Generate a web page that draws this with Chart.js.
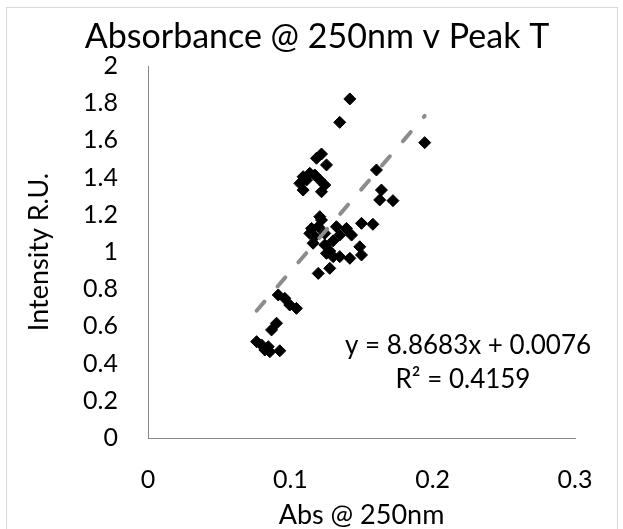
<!DOCTYPE html>
<html><head><meta charset="utf-8">
<script src="https://cdn.jsdelivr.net/npm/chart.js@4/dist/chart.umd.min.js"></script>
<style>html,body{margin:0;padding:0;background:#fff}#wrap{width:623px;height:529px;position:relative}</style>
</head><body><div id="wrap"><canvas id="c" width="623" height="529"></canvas></div>
<script>
const chartTitle = 'Absorbance @ 250nm v Peak T';
const xAxisTitle = 'Abs @ 250nm';
const yAxisTitle = 'Intensity R.U.';
const xTickLabels = ['0', '0.1', '0.2', '0.3'];
const yTickLabels = ['0', '0.2', '0.4', '0.6', '0.8', '1', '1.2', '1.4', '1.6', '1.8', '2'];
const absValues = [
  0.1418, 0.1347, 0.1944, 0.1219, 0.1184, 0.1254, 0.1090, 0.1137, 0.1172, 0.1067,
  0.1114, 0.1090, 0.1207, 0.1242, 0.1219, 0.1605, 0.1640, 0.1628, 0.1721, 0.1500,
  0.1580, 0.1207, 0.1149, 0.1196, 0.1137, 0.1172, 0.1324, 0.1394, 0.1430, 0.1347,
  0.1160, 0.1242, 0.1254, 0.1301, 0.1347, 0.1418, 0.1488, 0.1500, 0.1196, 0.1277,
  0.1242, 0.1277, 0.1219, 0.1300, 0.0915, 0.0961, 0.0996, 0.1043, 0.0903, 0.0868,
  0.0763, 0.0798, 0.0845, 0.0856, 0.0926, 0.0821
];
const intensityValues = [
  1.823, 1.697, 1.588, 1.527, 1.504, 1.468, 1.405, 1.423, 1.414, 1.369,
  1.387, 1.333, 1.387, 1.360, 1.324, 1.441, 1.333, 1.280, 1.276, 1.154,
  1.149, 1.190, 1.127, 1.136, 1.100, 1.082, 1.136, 1.127, 1.091, 1.091,
  1.047, 1.038, 0.993, 0.975, 0.975, 0.966, 1.028, 0.984, 0.885, 0.912,
  1.100, 1.005, 1.172, 1.060, 0.769, 0.751, 0.715, 0.697, 0.617, 0.581,
  0.518, 0.500, 0.491, 0.464, 0.469, 0.473
];
const trendSlope = 8.8683;
const trendIntercept = 0.0076;
const trendLabels = ['y = 8.8683x + 0.0076', 'R\u00B2 = 0.4159'];

const FONT = 'Lato';
const points = absValues.map((x, i) => ({ x: x, y: intensityValues[i] }));
const xMin = Math.min(...absValues), xMax = Math.max(...absValues);
const trendPoints = [xMin, xMax].map(x => ({ x: x, y: trendSlope * x + trendIntercept }));

const decorPlugin = {
  id: 'decor',
  beforeDraw(chart) {
    const ctx = chart.ctx;
    ctx.save();
    ctx.fillStyle = '#fff';
    ctx.fillRect(0, 0, chart.width, chart.height);
    ctx.strokeStyle = '#d9d9d9';
    ctx.lineWidth = 1;
    ctx.strokeRect(6.5, 7.5, 611, 540);
    ctx.restore();
  },
  afterDraw(chart) {
    const ctx = chart.ctx;
    ctx.save();
    ctx.fillStyle = '#000';
    ctx.textAlign = 'center';
    ctx.textBaseline = 'alphabetic';
    ctx.font = '34px ' + FONT;
    ctx.fillText(chartTitle, 317, 48);
    ctx.font = '26px ' + FONT;
    ctx.fillText(trendLabels[0], 468, 354);
    ctx.fillText(trendLabels[1], 463, 388);
    ctx.restore();
  }
};

new Chart(document.getElementById('c'), {
  type: 'scatter',
  data: {
    datasets: [
      {
        type: 'line',
        label: 'Trend',
        data: trendPoints,
        order: 0,
        borderColor: '#8c8c8c',
        borderWidth: 4,
        borderDash: [12, 20],
        borderCapStyle: 'round',
        pointRadius: 0,
        fill: false
      },
      {
        label: 'Peak T',
        data: points,
        order: 1,
        pointStyle: 'rectRot',
        pointRadius: 6,
        pointBackgroundColor: '#000',
        pointBorderColor: '#000',
        pointBorderWidth: 1
      }
    ]
  },
  options: {
    responsive: false,
    animation: false,
    devicePixelRatio: 1,
    layout: { padding: { top: 66, right: 48, left: 0, bottom: 0 } },
    plugins: {
      legend: { display: false },
      tooltip: { enabled: false },
      title: { display: false }
    },
    scales: {
      x: {
        type: 'linear',
        min: 0, max: 0.3,
        afterFit(s) { s.height = 91; },
        grid: { display: false, drawTicks: false },
        border: { display: true, color: '#878787', width: 1 },
        ticks: {
          stepSize: 0.1,
          padding: 27,
          color: '#000',
          font: { family: FONT, size: 25 },
          autoSkip: false,
          maxRotation: 0,
          callback: (v, i) => xTickLabels[i]
        },
        title: {
          display: true, text: xAxisTitle, color: '#000',
          font: { family: FONT, size: 27, lineHeight: 1 },
          padding: { top: 0, bottom: 0 }
        }
      },
      y: {
        type: 'linear',
        min: 0, max: 2,
        afterFit(s) { s.width = 148; },
        grid: { display: false, drawTicks: false },
        border: { display: true, color: '#878787', width: 1 },
        ticks: {
          stepSize: 0.2,
          padding: 30,
          color: '#000',
          font: { family: FONT, size: 25 },
          autoSkip: false,
          callback: (v, i) => yTickLabels[i]
        },
        title: {
          display: true, text: yAxisTitle, color: '#000',
          font: { family: FONT, size: 27, lineHeight: 1 },
          padding: { top: 26, bottom: 0 }
        }
      }
    }
  },
  plugins: [decorPlugin]
});
</script></body></html>
